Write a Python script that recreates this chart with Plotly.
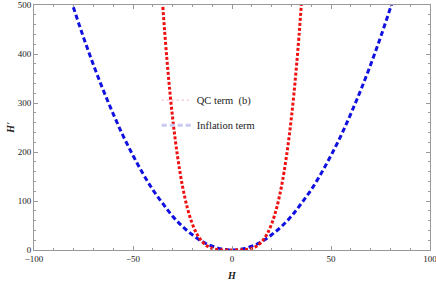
import plotly.graph_objects as go

# Inflation term (blue dashed)
x_infl = [-85, -80, -75, -70, -65, -60, -55, -50, -45, -40, -35, -30, -25, -20, -15, -10, -5, 0,
          5, 10, 15, 20, 25, 30, 35, 40, 45, 50, 55, 60, 65, 70, 75, 80, 85]
y_infl = [558, 494, 434, 378, 326, 278, 233, 193, 156, 123, 95, 69, 48, 31, 17, 7.7, 1.9, 0,
          1.9, 7.7, 17, 31, 48, 69, 95, 123, 156, 193, 233, 278, 326, 378, 434, 494, 558]

# QC term (b) (red dotted)
x_qc = [-37.5, -35, -32.5, -30, -27.5, -25, -22.5, -20, -17.5, -15, -12.5, -10, -7.5, -5, -2.5, 0,
        2.5, 5, 7.5, 10, 12.5, 15, 17.5, 20, 22.5, 25, 27.5, 30, 32.5, 35, 37.5]
y_qc = [659, 500, 372, 270, 191, 130, 85, 53, 31, 17, 8.1, 3.3, 1.1, 0.2, 0, 0,
        0, 0.2, 1.1, 3.3, 8.1, 17, 31, 53, 85, 130, 191, 270, 372, 500, 659]

legend_names = ["QC term  (b)", "Inflation term"]

serif = "Liberation Serif"
fig = go.Figure()
fig.add_trace(go.Scatter(x=x_infl, y=y_infl, mode="lines",
                         line=dict(color="#1010e0", width=3, dash="5px,3px", shape="spline"),
                         showlegend=False))
fig.add_trace(go.Scatter(x=x_qc, y=y_qc, mode="lines",
                         line=dict(color="#ee1111", width=3, dash="3px,2px", shape="spline"),
                         showlegend=False))
# faded legend entries
fig.add_trace(go.Scatter(x=[None], y=[None], mode="lines", name=legend_names[0], legendgroup="a",
                         line=dict(color="#f4c8d4", width=1.5, dash="2px,3px")))
fig.add_trace(go.Scatter(x=[None], y=[None], mode="lines", name=legend_names[1], legendgroup="b",
                         line=dict(color="#c8c8f4", width=3, dash="5px,3px")))

axis_common = dict(showgrid=False, zeroline=False, showline=True, linecolor="#999999", linewidth=1,
                   mirror="ticks", ticks="inside", tickcolor="#999999", ticklen=4,
                   ticklabeloverflow="allow", automargin=False,
                   tickfont=dict(family=serif, size=9, color="#222"))
fig.update_xaxes(range=[-100, 100], dtick=50, minor=dict(dtick=10, ticklen=2, tickcolor="#999999", ticks="inside"),
                 **axis_common)
fig.update_yaxes(range=[0, 500], dtick=100, minor=dict(dtick=20, ticklen=2, tickcolor="#999999", ticks="inside"),
                 **axis_common)

fig.add_annotation(text="<b><i>H</i></b>", xref="paper", yref="paper", x=0.5, y=-0.075, yanchor="top",
                   showarrow=False, font=dict(family=serif, size=10, color="#222"))
fig.add_annotation(text="<b><i>H'</i></b>", xref="paper", yref="paper", x=-0.06, y=0.5, xanchor="center",
                   textangle=-90, showarrow=False, font=dict(family=serif, size=10, color="#222"))

fig.update_layout(width=436, height=281, margin=dict(l=34, r=6, t=5, b=31),
                  plot_bgcolor="white", paper_bgcolor="white",
                  legend=dict(x=0.31, y=0.67, xanchor="left", yanchor="top", bgcolor="rgba(0,0,0,0)",
                              traceorder="grouped", tracegroupgap=6,
                              font=dict(family=serif, size=10.5, color="#222"), itemwidth=30))
fig.write_html("out.html", config={"displayModeBar": False},
               post_script="document.body.style.margin='0';document.body.style.overflow='hidden';")
